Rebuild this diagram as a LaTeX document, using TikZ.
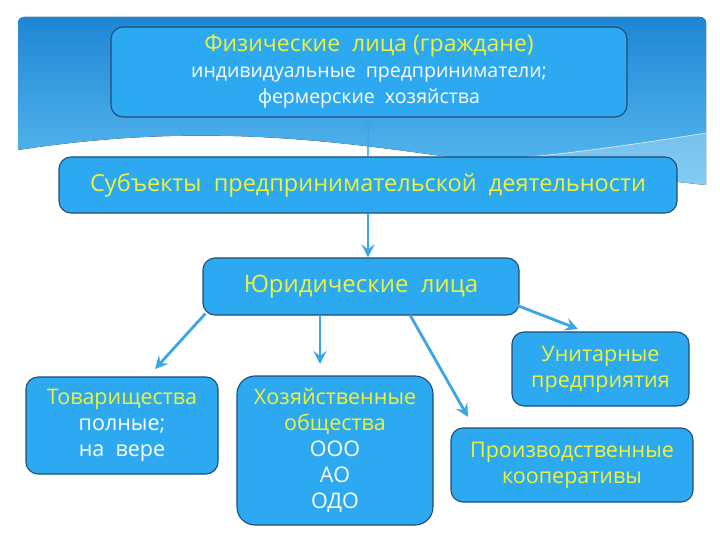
\documentclass[tikz,border=0pt]{standalone}
\usepackage{fontspec}
\setmainfont{Open Sans}
\usepackage{xcolor}
\definecolor{boxfill}{HTML}{2CA9F1}
\definecolor{boxline}{HTML}{1D4C78}
\definecolor{titleyel}{HTML}{EEF23A}
\definecolor{arrowblue}{HTML}{3AA6E6}
\definecolor{bandtop}{HTML}{1F86D4}
\definecolor{bandbot}{HTML}{5BBCF0}
\usetikzlibrary{arrows.meta, positioning, calc}

\begin{document}
\begin{tikzpicture}[x=1pt, y=-1pt,
    entity/.style={fill=boxfill, draw=boxline, line width=1.1pt,
                   rounded corners=12pt, align=center, inner sep=2pt,
                   font=\fontsize{21.5}{26}\selectfont, text=white},
    link/.style={draw=arrowblue, line width=2.8pt,
                 -{Stealth[length=13pt, width=13pt, inset=5pt]}}]
    \useasboundingbox (0,0) rectangle (720,540);

    % banner behind the top box
    \fill[top color=bandtop, bottom color=bandbot]
      (18,150) -- (18,22) to[out=90,in=180] (24,17) -- (700,17)
      to[out=0,in=90] (706,23) -- (706,185)
      .. controls (640,178) and (560,168) .. (470,160)
      .. controls (330,140) and (200,122) .. (18,150) -- cycle;
    \fill[white, opacity=0.25]
      (706,133) .. controls (600,150) and (520,160) .. (470,160)
      .. controls (560,168) and (640,178) .. (706,185) -- cycle;
    \draw[white, line width=0.6pt, opacity=0.8]
      (706,133) .. controls (600,150) and (520,160) .. (470,160);

    \node[entity, minimum width=516pt, minimum height=90pt] (fizlica) at (369,72)
      {{\fontsize{23}{27}\selectfont\color{titleyel}Физические\ \ лица (граждане)}\\
       {\fontsize{19.5}{27}\selectfont индивидуальные\ \ предприниматели;}\\
       {\fontsize{19.5}{27}\selectfont фермерские\ \ хозяйства}};
    \node[entity, minimum width=618pt, minimum height=56pt, text=titleyel,
          font=\fontsize{23.5}{27}\selectfont] (subekty) at (368,185)
      {Субъекты\ \ предпринимательской\ \ деятельности};
    \node[entity, minimum width=316pt, minimum height=57pt, text=titleyel,
          font=\fontsize{24}{28}\selectfont] (yurlica) at (361,286.5)
      {Юридические\ \ лица};

    \node[entity, minimum width=192pt, minimum height=97pt] (tovar) at (122,425.5)
      {{\color{titleyel}Товарищества}\\полные;\\на\ \ вере};
    \node[entity, minimum width=196pt, minimum height=149pt,
          rounded corners=18pt] (hozob) at (335,450.5)
      {{\color{titleyel}Хозяйственные}\\{\color{titleyel}общества}\\ООО\\АО\\ОДО};
    \node[entity, minimum width=177pt, minimum height=74pt, text=titleyel] (unitar) at (600.5,369)
      {Унитарные\\предприятия};
    \node[entity, minimum width=242pt, minimum height=74pt, text=titleyel] (proizv) at (572,465)
      {Производственные\\кооперативы};

    % arrow ends
    \coordinate (tovtip) at (155,369);
    \coordinate (hoztip) at (320,364);
    \coordinate (hozfrom) at (320,315);
    \coordinate (protip) at (468,417);
    \coordinate (profrom) at (410,315);
    \coordinate (unitip) at (578,329);
    \coordinate (unifrom) at (516,305);

    \draw[link, line width=2pt, opacity=0.8] (subekty.north) -- (fizlica.south);
    \draw[link] (subekty.south) -- (subekty.south |- yurlica.north);
    \draw[link] (yurlica.south west) ++(3,-2) -- (tovtip);
    \draw[link] (hozfrom) -- (hoztip);
    \draw[link] (profrom) -- (protip);
    \draw[link] (unifrom) -- (unitip);
\end{tikzpicture}
\end{document}
